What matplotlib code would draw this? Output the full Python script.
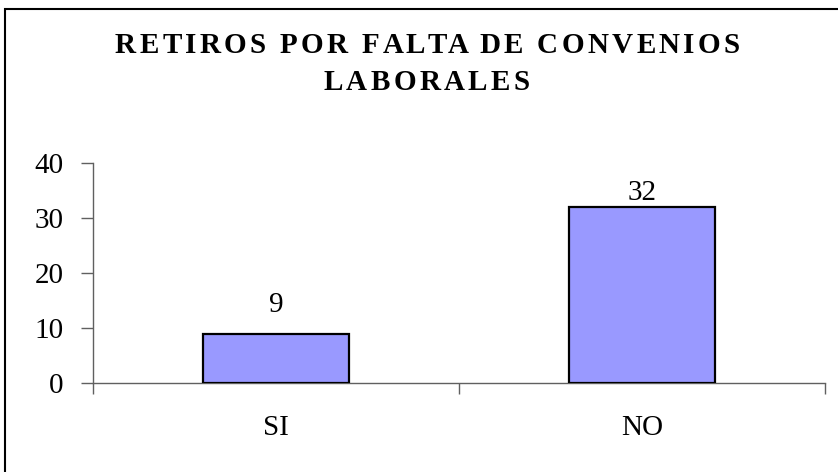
import numpy as np
import matplotlib.pyplot as plt
from matplotlib.patches import Rectangle

categorias = ['SI', 'NO']
valores = [9, 32]
yticks = [0, 10, 20, 30, 40]
titulo = ['RETIROS POR FALTA DE CONVENIOS', 'LABORALES']

plt.rcParams['font.family'] = ['Liberation Serif', 'DejaVu Serif']

W, H = 838, 472
fig = plt.figure(figsize=(W/100, H/100), dpi=100)
ax = fig.add_axes([93/W, 1-383/H, (825-93)/W, (383-163)/H])

x_pos = np.arange(len(categorias))
bars = ax.bar(x_pos, valores, width=0.4, color='#9999FF', edgecolor='black', linewidth=1.6, zorder=3)
for xp, v, pad in zip(x_pos, valores, [11, 1]):
    ax.annotate(str(v), (xp, v), xytext=(0, pad), textcoords='offset points',
                ha='center', va='bottom', fontsize=21)

ax.set_xlim(-0.5, len(categorias) - 0.5)
ax.set_ylim(0, 40)
ax.set_yticks(yticks)
ax.set_xticks([-0.5, 0.5, 1.5])
ax.set_xticklabels([])
ax.set_xticks(x_pos, minor=True)
ax.set_xticklabels(categorias, minor=True)
ax.tick_params(axis='x', which='major', direction='out', length=8, color='#606060', width=1)
ax.tick_params(axis='x', which='minor', length=0, pad=23, labelsize=21)
ax.tick_params(axis='y', direction='out', length=9, color='#606060', width=1, labelsize=21, pad=12)

for s in ['top', 'right']:
    ax.spines[s].set_visible(False)
for s in ['left', 'bottom']:
    ax.spines[s].set_color('#606060')
    ax.spines[s].set_linewidth(1)


# title with letter spacing, drawn char by char
def texto_espaciado(s, cx, base_y, size, ancho=None, track=0):
    r = fig.canvas.get_renderer()
    def w(t):
        tt = fig.text(0, 0, t + '|', fontsize=size, fontweight='bold')
        tb = fig.text(0, 0, '|', fontsize=size, fontweight='bold')
        v = tt.get_window_extent(r).width - tb.get_window_extent(r).width
        tt.remove(); tb.remove()
        return v
    pre = [w(s[:i]) for i in range(len(s) + 1)]
    if ancho is not None:
        track = (ancho - pre[-1]) / (len(s) - 1)
    total = pre[-1] + track * (len(s) - 1)
    x0 = cx - total / 2
    for i, ch in enumerate(s):
        if ch == ' ':
            continue
        fig.text((x0 + pre[i] + track * i) / W, 1 - base_y / H, ch, fontsize=size,
                 fontweight='bold', ha='left', va='baseline')
    return track

tr = texto_espaciado(titulo[0], 427.5, 53, 21, ancho=625)
texto_espaciado(titulo[1], 426.5, 90, 21, track=tr)

fig.patches.append(Rectangle((5/W, -0.1), 1.2, 1 - 9/H + 0.1, transform=fig.transFigure,
                             fill=False, edgecolor='black', linewidth=1.5))

fig.savefig('out.png', dpi=100)
